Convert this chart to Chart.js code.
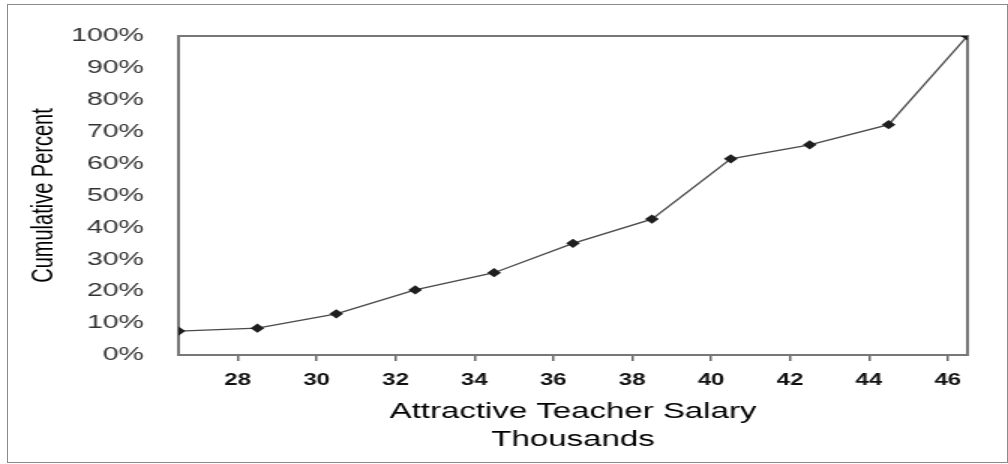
<!DOCTYPE html>
<html>
<head>
<meta charset="utf-8">
<title>Cumulative Percent</title>
<script src="https://cdn.jsdelivr.net/npm/chart.js@4"></script>
<style>
  html, body { margin: 0; padding: 0; background: #fff; }
  body { width: 1008px; height: 464px; position: relative; overflow: hidden; }
  #frame {
    position: absolute; left: 7px; top: 4px; width: 1001px; height: 459px;
    box-sizing: border-box; border: 1px solid #8a8a8a;
  }
  /* the original picture is stretched sideways, so draw narrow and scale */
  #wrap {
    position: absolute; left: 0; top: 0; width: 672px; height: 464px;
    transform: scaleX(1.5); transform-origin: 0 0;
  }
</style>
</head>
<body>
<div id="frame"></div>
<div id="wrap"><canvas id="chart" width="672" height="464"></canvas></div>
<script>
// salary class upper bounds (thousands) and cumulative percent
const salaryThousands = [26.5, 28.5, 30.5, 32.5, 34.5, 36.5, 38.5, 40.5, 42.5, 44.5, 46.5];
const cumulativePercent = [7.5, 8.4, 12.9, 20.4, 25.8, 35.0, 42.6, 61.5, 65.9, 72.2, 100];
const xTickValues = [28, 30, 32, 34, 36, 38, 40, 42, 44, 46];
const yTickValues = [0, 10, 20, 30, 40, 50, 60, 70, 80, 90, 100];

const FONT = "'Liberation Sans', Arial, sans-serif";

// box around the plot area
const plotFrame = {
  id: "plotFrame",
  beforeDatasetsDraw(chart) {
    const { ctx, chartArea: a } = chart;
    ctx.save();
    ctx.strokeStyle = "#777";
    ctx.lineWidth = 2;
    ctx.strokeRect(a.left, a.top, a.right - a.left, a.bottom - a.top);
    ctx.restore();
  },
};

const points = salaryThousands.map((x, i) => ({ x: x, y: cumulativePercent[i] }));

new Chart(document.getElementById("chart"), {
  type: "line",
  data: {
    datasets: [
      {
        data: points,
        borderColor: "#4a4a4a",
        borderWidth: 1.3,
        pointStyle: "rectRot",
        pointRadius: 4.6,
        pointBackgroundColor: "#1e1e1e",
        pointBorderColor: "#1e1e1e",
        pointBorderWidth: 0,
        tension: 0,
      },
    ],
  },
  options: {
    responsive: false,
    animation: false,
    events: [],
    layout: { padding: { top: 36, right: 27, left: 0, bottom: 0 } },
    plugins: { legend: { display: false }, tooltip: { enabled: false } },
    scales: {
      x: {
        type: "linear",
        min: 26.5,
        max: 46.5,
        afterFit: (scale) => { scale.height = 109; },
        afterBuildTicks: (scale) => {
          scale.ticks = xTickValues.map((v) => ({ value: v }));
        },
        border: { display: false },
        grid: {
          display: true,
          drawOnChartArea: false,
          drawTicks: true,
          tickLength: 6,
          color: "#666",
          lineWidth: 1.5,
        },
        ticks: {
          padding: 10,
          color: "#111",
          font: { family: FONT, size: 16, weight: "bold" },
          maxRotation: 0,
        },
        title: {
          display: true,
          text: ["Attractive Teacher Salary", "Thousands"],
          color: "#000",
          font: { family: FONT, size: 22, lineHeight: 1.27 },
          padding: { top: 0, bottom: 10 },
        },
      },
      y: {
        min: 0,
        max: 100,
        afterFit: (scale) => { scale.width = 119; },
        afterBuildTicks: (scale) => {
          scale.ticks = yTickValues.map((v) => ({ value: v }));
        },
        border: { display: false },
        grid: { display: false },
        ticks: {
          padding: 15,
          color: "#333",
          font: { family: FONT, size: 19 },
          callback: (v) => v + "%",
        },
        title: {
          display: true,
          text: "Cumulative Percent",
          color: "#000",
          font: { family: FONT, size: 20, lineHeight: 1.2 },
          padding: { top: 17, bottom: 0 },
        },
      },
    },
  },
  plugins: [plotFrame],
});
</script>
</body>
</html>
